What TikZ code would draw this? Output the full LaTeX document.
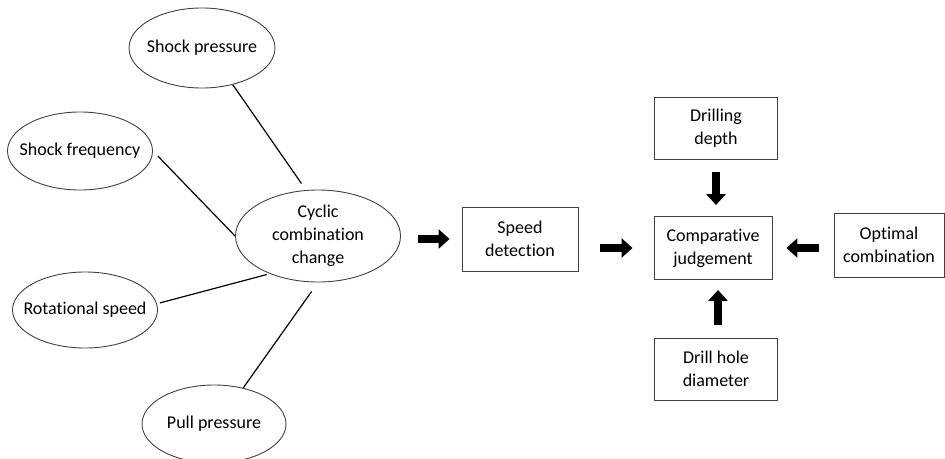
\documentclass[tikz,border=0pt]{standalone}
\usepackage{fontspec}
\setmainfont{Carlito}[RawFeature={-liga;-clig;-calt;-dlig}]
\usetikzlibrary{shapes.geometric,arrows.meta}
\tikzset{
  ellbox/.style={ellipse,draw=black!75,line width=0.9pt,minimum width=145pt,minimum height=78pt,inner sep=0pt},
  rectbox/.style={rectangle,draw=black!75,line width=0.9pt,minimum width=120pt,minimum height=63pt,align=center,inner sep=0pt},
  link/.style={line width=1.2pt},
  blockarrow/.style={line width=8pt,-{Triangle[length=11pt,width=19pt]}},
}
\begin{document}
\begin{tikzpicture}[x=1pt,y=-1pt,font=\fontsize{18}{23}\selectfont]
                \useasboundingbox (0,0) rectangle (945,458);
                %% input parameters
                \node[ellbox,minimum width=146pt,minimum height=80pt,label={center:Shock pressure}] (shockp) at (202,48) {};
                \node[ellbox,label={center:Shock frequency}] (shockf) at (80,151) {};
                \node[ellbox,minimum height=76pt,label={center:Rotational speed}] (rotsp) at (85,310) {};
                \node[ellbox,minimum width=144pt,label={center:Pull pressure}] (pullp) at (214,424) {};
                \node[ellbox,minimum width=165pt,minimum height=92pt,label={[align=center]center:Cyclic\\combination\\change}] (cyclic) at (318,236) {};
                \draw[link] (shockp.-50) -- ([shift={(0,-7)}]cyclic.110);
                \draw[link,shorten <=7pt] (shockf.0) -- (cyclic.180);
                \draw[link,shorten <=3pt,shorten >=3pt] (rotsp.5) -- (cyclic.-142);
                \draw[link,shorten >=11pt] (pullp.51) -- (cyclic.-90);
                %% detection and judgement
                \node[rectbox,minimum width=116pt,minimum height=64pt] (speed) at (520,239) {Speed\\detection};
                \node[rectbox,minimum width=118pt] (comp) at (713,248) {Comparative\\judgement};
                \node[rectbox,minimum width=123pt,minimum height=62pt] (depth) at (716,128) {Drilling\\depth};
                \node[rectbox,minimum width=123pt,minimum height=62pt] (hole) at (716,369) {Drill hole\\diameter};
                \node[rectbox,minimum width=110pt,minimum height=64pt] (optimal) at (889,245) {Optimal\\combination};
                \draw[blockarrow,shorten <=17pt,shorten >=12pt] (cyclic.east |- speed) -- (speed.west);
                \draw[blockarrow,shorten <=22pt,shorten >=21pt] (speed.east |- comp) -- (comp.west);
                \draw[blockarrow,shorten <=13pt,shorten >=11pt] (depth.south) -- (depth.south |- comp.north);
                \draw[blockarrow,shorten <=13pt,shorten >=10pt] ([xshift=2pt]hole.north) -- ([xshift=2pt]hole.north |- comp.south);
                \draw[blockarrow,shorten <=15pt,shorten >=14pt] (optimal.west |- comp) -- (comp.east);
            \end{tikzpicture}
\end{document}
